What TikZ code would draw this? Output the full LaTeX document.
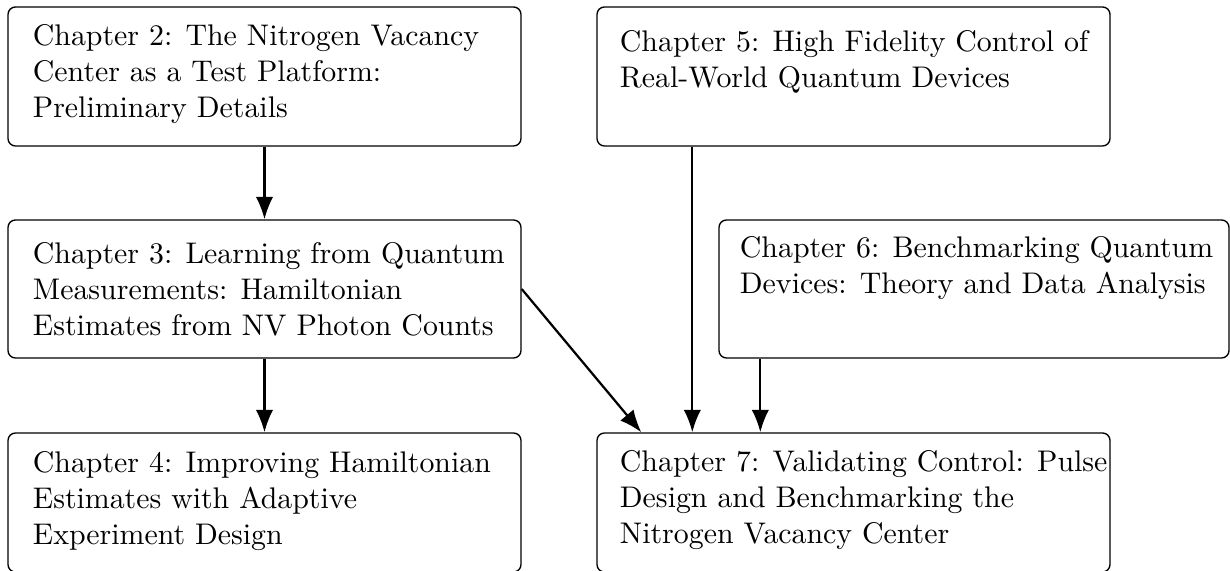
\documentclass[tikz,border=0pt]{standalone}
\usetikzlibrary{arrows.meta}
\def\pu{0.335pt}
\begin{document}
\begin{tikzpicture}[x=\pu,y=-\pu,
  chbox/.style={draw, line width=0.45pt, rounded corners=2.5pt, inner sep=0pt, minimum width=513*\pu, minimum height=139*\pu},
  chtext/.style={anchor=north west, inner sep=0pt, align=left, font=\normalsize},
  arr/.style={line width=0.75pt, -{Latex[length=7.5pt,width=5.8pt]}}]
\useasboundingbox (0,0) rectangle (1230,571);
% boxes
\node[chbox] (c2) at (264.5,76.5) {};
\node[chbox] (c5) at (853.5,76.5) {};
\node[chbox, minimum height=138*\pu] (c3) at (264.5,289) {};
\node[chbox, minimum width=510*\pu, minimum height=138*\pu] (c6) at (974,289) {};
\node[chbox] (c4) at (264.5,502.5) {};
\node[chbox] (c7) at (853.5,502.5) {};
% texts
\node[chtext] (t2) at ([shift={(25,18)}]c2.north west) {Chapter 2: The Nitrogen Vacancy\\Center as a Test Platform:\\Preliminary Details};
\node[chtext] (t5) at ([shift={(23,24)}]c5.north west) {Chapter 5: High Fidelity Control of\\Real-World Quantum Devices};
\node[chtext] (t3) at ([shift={(25,23)}]c3.north west) {Chapter 3: Learning from Quantum\\Measurements: Hamiltonian\\Estimates from NV Photon Counts};
\node[chtext] (t6) at ([shift={(21,17)}]c6.north west) {Chapter 6: Benchmarking Quantum\\Devices: Theory and Data Analysis};
\node[chtext] (t4) at ([shift={(25,19)}]c4.north west) {Chapter 4: Improving Hamiltonian\\Estimates with Adaptive\\Experiment Design};
\node[chtext] (t7) at ([shift={(23,18)}]c7.north west) {Chapter 7: Validating Control: Pulse\\Design and Benchmarking the\\Nitrogen Vacancy Center};
% connector ends
\coordinate (a5) at ([xshift=96*\pu]c5.south west);
\coordinate (e5) at ([xshift=96*\pu]c7.north west);
\coordinate (a6) at ([xshift=42*\pu]c6.south west);
\coordinate (e6) at ([xshift=164*\pu]c7.north west);
\coordinate (e3) at ([xshift=45*\pu]c7.north west);
% arrows
\draw[arr] (c2.south) -- (c3.north);
\draw[arr] (c3.south) -- (c4.north);
\draw[arr] (c3.east) -- (e3);
\draw[arr] (a5) -- (e5);
\draw[arr] (a6) -- (e6);
\end{tikzpicture}
\end{document}
